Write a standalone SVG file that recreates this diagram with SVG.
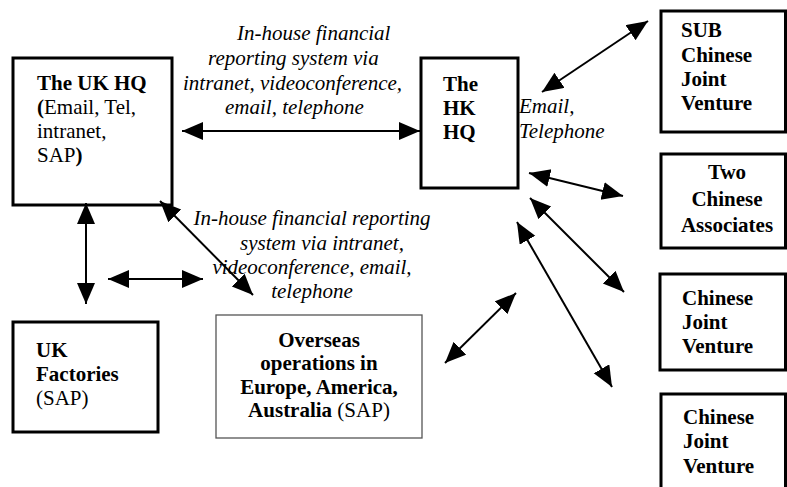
<svg xmlns="http://www.w3.org/2000/svg" width="787" height="487" viewBox="0 0 787 487">
<style>
text{font-family:"Liberation Serif","Times New Roman",serif;font-size:21px;fill:#000}
.b{font-weight:bold}
.i{font-style:italic}
.box{fill:#fff;stroke:#000;stroke-width:3}
.thin{fill:#fff;stroke:#555;stroke-width:1.3}
.c{text-anchor:middle}
.arr{stroke:#000;stroke-width:2;fill:none;marker-start:url(#ah);marker-end:url(#ah)}
</style>
<defs>
<marker id="ah" markerUnits="userSpaceOnUse" markerWidth="22" markerHeight="20" viewBox="0 0 22 20" refX="21" refY="9" orient="auto-start-reverse">
<path d="M0,0 L21,9 L0,18 z" fill="#000"/>
</marker>
</defs>
<g id="uk-hq">
<rect class="box" x="13" y="58" width="159" height="147"/>
<text x="37" y="90" class="b">The UK HQ</text>
<text x="37" y="114"><tspan class="b">(</tspan>Email, Tel,</text>
<text x="37" y="138">intranet,</text>
<text x="37" y="162">SAP<tspan class="b">)</tspan></text>
</g>
<g id="hk-hq">
<rect class="box" x="421" y="58" width="97" height="130" stroke-width="2.5"/>
<text x="443" y="91" class="b">The</text>
<text x="443" y="115" class="b">HK</text>
<text x="443" y="139" class="b">HQ</text>
</g>
<g id="sub-jv">
<rect class="box" x="661" y="11" width="124.5" height="121"/>
<text x="681" y="37" class="b">SUB</text>
<text x="681" y="62" class="b">Chinese</text>
<text x="681" y="86" class="b">Joint</text>
<text x="681" y="110" class="b">Venture</text>
</g>
<g id="two-associates">
<rect class="box" x="661" y="154" width="124.5" height="94"/>
<text x="727" y="179" class="b c">Two</text>
<text x="727" y="206" class="b c">Chinese</text>
<text x="727" y="232" class="b c">Associates</text>
</g>
<g id="jv1">
<rect class="box" x="660" y="274" width="125.5" height="96"/>
<text x="682" y="305" class="b">Chinese</text>
<text x="682" y="329" class="b">Joint</text>
<text x="682" y="353" class="b">Venture</text>
</g>
<g id="jv2">
<rect class="box" x="661" y="394" width="124.5" height="100"/>
<text x="683" y="424" class="b">Chinese</text>
<text x="683" y="448" class="b">Joint</text>
<text x="683" y="473" class="b">Venture</text>
</g>
<g id="uk-factories">
<rect class="box" x="13" y="322" width="145" height="110"/>
<text x="36" y="357" class="b">UK</text>
<text x="36" y="381" class="b">Factories</text>
<text x="36" y="405">(SAP)</text>
</g>
<g id="overseas">
<rect class="thin" x="216" y="315" width="206" height="123"/>
<text x="319" y="347" class="b c">Overseas</text>
<text x="319" y="370" class="b c">operations in</text>
<text x="319" y="394" class="b c">Europe, America,</text>
<text x="319" y="417" class="c"><tspan class="b">Australia</tspan> (SAP)</text>
</g>
<g id="labels">
<text x="237" y="40" class="i">In-house financial</text>
<text x="208" y="65" class="i">reporting system via</text>
<text x="183" y="90" class="i">intranet, videoconference,</text>
<text x="225" y="114" class="i">email, telephone</text>
<text x="312" y="225" class="i c">In-house financial reporting</text>
<text x="322" y="250" class="i c">system via intranet,</text>
<text x="312" y="274" class="i c">videoconference, email,</text>
<text x="312" y="298" class="i c">telephone</text>
<text x="519" y="113" class="i">Email,</text>
<text x="519" y="138" class="i">Telephone</text>
</g>
<g id="connectors">
<line class="arr" x1="182" y1="131" x2="420" y2="131"/>
<line class="arr" x1="86" y1="203" x2="86" y2="304"/>
<line class="arr" x1="108" y1="279" x2="203" y2="279"/>
<line class="arr" x1="160" y1="201" x2="253" y2="295"/>
<line class="arr" x1="542" y1="92" x2="648" y2="21"/>
<line class="arr" x1="529" y1="173" x2="623" y2="196"/>
<line class="arr" x1="530" y1="198" x2="624" y2="292"/>
<line class="arr" x1="517" y1="222" x2="612" y2="387"/>
<line class="arr" x1="445" y1="363" x2="516" y2="293"/>
</g>
</svg>
